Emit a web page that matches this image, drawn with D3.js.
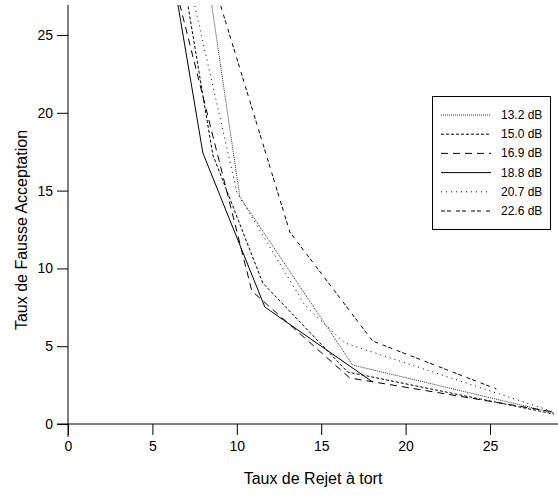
<!DOCTYPE html>
<html><head><meta charset="utf-8">
<script src="https://cdn.jsdelivr.net/npm/d3@7"></script>
<style>body{margin:0;background:#fff}svg{display:block}text{font-family:"Liberation Sans",Arial,sans-serif;fill:#000}</style>
</head><body>
<script>
const seriesNames = ["13.2 dB","15.0 dB","16.9 dB","18.8 dB","20.7 dB","22.6 dB"];
const s132 = [[8.1,30],[10.18,14.59],[16.86,3.79],[28.8,0.71]];
const s150 = [[6.63,30],[8.58,17.29],[11.54,9.06],[16.57,3.34],[28.8,0.64]];
const s169 = [[5.92,30],[10.89,8.55],[16.69,2.96],[28.8,0.77]];
const s188 = [[6.04,30],[7.99,17.42],[11.66,7.52],[18.05,2.70]];
const s207 = [[6.86,30],[10.0,14.91],[14.02,7.65],[16.39,5.21],[28.8,0.77]];
const s226 = [[8.17,30],[13.14,12.34],[18.05,5.33],[25.38,2.25]];
const seriesData = [s132,s150,s169,s188,s207,s226];
const dashes = ["1,1","3,2","7,5",null,"1,4","4,2,4,5"];
const xTicks = [0,5,10,15,20,25];
const yTicks = [0,5,10,15,20,25];

const W=558,H=495;
const svg=d3.select("body").append("svg").attr("width",W).attr("height",H);
const x=d3.scaleLinear().domain([0,25]).range([68,490]);
const y=d3.scaleLinear().domain([0,25]).range([424,35]);
const plotTop=5;

svg.append("clipPath").attr("id","c").append("rect")
  .attr("x",68).attr("y",plotTop).attr("width",W-68).attr("height",424-plotTop);

const line=d3.line().x(d=>x(d[0])).y(d=>y(d[1]));
const g=svg.append("g").attr("clip-path","url(#c)");
seriesData.forEach((s,i)=>{
  g.append("path").attr("d",line(s)).attr("fill","none")
   .attr("stroke",i===0?"#333":"#000").attr("stroke-width",1)
   .attr("stroke-dasharray",dashes[i]);
});

// axes
const xa=svg.append("g").attr("transform","translate(0,424)")
  .call(d3.axisBottom(x).tickValues(xTicks).tickSize(11).tickPadding(6).tickFormat(d3.format("d")));
xa.select(".domain").remove();
xa.append("line").attr("x1",57).attr("x2",W).attr("stroke","#000");
const ya=svg.append("g").attr("transform","translate(68,0)")
  .call(d3.axisLeft(y).tickValues(yTicks).tickSize(11).tickPadding(4).tickFormat(d3.format("d")));
ya.select(".domain").remove();
ya.append("line").attr("y1",plotTop).attr("y2",437).attr("stroke","#000");
svg.selectAll(".tick text").attr("font-size",14).attr("font-family","Liberation Sans, Arial, sans-serif").attr("fill","#000");
svg.selectAll(".tick line").attr("stroke","#000");

svg.append("text").attr("x",313).attr("y",484).attr("text-anchor","middle").attr("font-size",16).text("Taux de Rejet à tort");
svg.append("text").attr("transform","translate(27,230) rotate(-90)").attr("text-anchor","middle").attr("font-size",16).text("Taux de Fausse Acceptation");

// legend
const lg=svg.append("g");
lg.append("rect").attr("x",432.5).attr("y",96.5).attr("width",118).attr("height",133).attr("fill","#fff").attr("stroke","#000");
seriesNames.forEach((n,i)=>{
  const yy=115+i*19.2;
  lg.append("line").attr("x1",441).attr("x2",491).attr("y1",yy).attr("y2",yy)
    .attr("stroke",i===0?"#333":"#000").attr("stroke-dasharray",dashes[i]);
  lg.append("text").attr("x",501).attr("y",yy+4).attr("font-size",12).text(n);
});
</script>
</body></html>
